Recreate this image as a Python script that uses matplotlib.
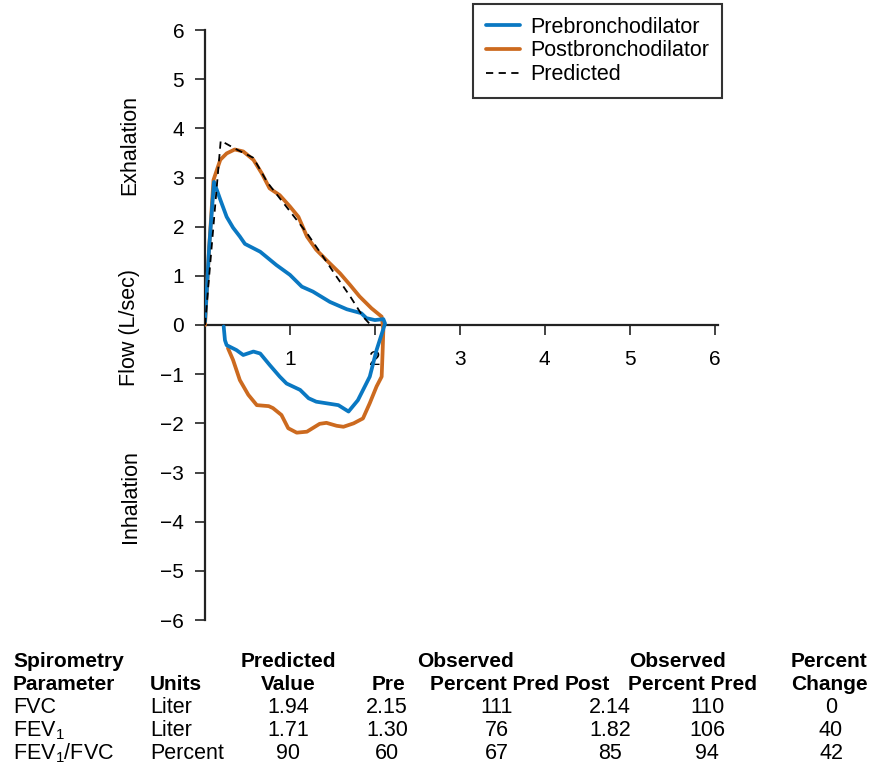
import matplotlib
matplotlib.use("Agg")
import matplotlib.pyplot as plt

plt.rcParams['font.family'] = ['Liberation Sans', 'DejaVu Sans']
plt.rcParams['mathtext.fontset'] = 'custom'
plt.rcParams['mathtext.rm'] = 'Liberation Sans'

# Prebronchodilator loop (volume L, flow L/s)
pre_vol = [0.0, 0.05, 0.106, 0.18, 0.255, 0.33, 0.41, 0.47, 0.65, 0.84, 1.0, 1.14, 1.27, 1.47, 1.67, 1.84, 1.90, 2.0, 2.10, 2.12,
           2.02, 1.94, 1.80, 1.69, 1.57, 1.31, 1.22, 1.12, 0.96, 0.88, 0.76, 0.65, 0.57, 0.45, 0.37, 0.255, 0.235, 0.22]
pre_flow = [0.07, 1.6, 2.91, 2.55, 2.20, 1.98, 1.80, 1.65, 1.49, 1.22, 1.02, 0.78, 0.68, 0.47, 0.32, 0.24, 0.14, 0.10, 0.12, 0.03,
            -0.51, -1.05, -1.53, -1.76, -1.63, -1.56, -1.49, -1.32, -1.19, -1.05, -0.81, -0.58, -0.54, -0.61, -0.51, -0.41, -0.31, -0.03]

# Postbronchodilator loop
post_vol = [0.0, 0.05, 0.10, 0.18, 0.255, 0.35, 0.45, 0.57, 0.67, 0.76, 0.88, 1.0, 1.10, 1.20, 1.31, 1.43, 1.59, 1.71, 1.82, 1.96, 2.08, 2.10,
            2.09, 2.08, 2.02, 1.94, 1.86, 1.75, 1.63, 1.55, 1.43, 1.35, 1.20, 1.08, 0.98, 0.90, 0.80, 0.75, 0.61, 0.51, 0.41, 0.33, 0.27]
post_flow = [0.0, 1.6, 2.95, 3.36, 3.49, 3.57, 3.53, 3.36, 3.08, 2.78, 2.64, 2.41, 2.20, 1.80, 1.53, 1.32, 1.05, 0.81, 0.58, 0.34, 0.17, -0.10,
             -0.6, -1.05, -1.25, -1.59, -1.90, -2.00, -2.07, -2.05, -1.99, -2.01, -2.17, -2.19, -2.10, -1.83, -1.69, -1.65, -1.63, -1.42, -1.12, -0.71, -0.47]

# Predicted (exhalation only)
pred_vol = [0.0, 0.185, 0.35, 0.57, 0.73, 1.20, 1.39, 1.55, 1.71, 1.86, 1.94]
pred_flow = [0.0, 3.75, 3.59, 3.40, 2.91, 1.87, 1.39, 0.98, 0.58, 0.17, 0.02]

x_ticks = [1, 2, 3, 4, 5, 6]
y_ticks = [-6, -5, -4, -3, -2, -1, 0, 1, 2, 3, 4, 5, 6]

# Table
header1 = ["Spirometry", "", "Predicted", "", "Observed", "", "Observed", "Percent"]
header2 = ["Parameter", "Units", "Value", "Pre", "Percent Pred", "Post", "Percent Pred", "Change"]
rows = [
    ["FVC", "Liter", "1.94", "2.15", "111", "2.14", "110", "0"],
    [r"FEV$_\mathrm{1}$", "Liter", "1.71", "1.30", "76", "1.82", "106", "40"],
    [r"FEV$_\mathrm{1}$/FVC", "Percent", "90", "60", "67", "85", "94", "42"],
]

BLUE = '#0a78c2'
ORANGE = '#cc6a1f'
FS = 15.5
FSB = 15.0

W, H = 872, 765
fig = plt.figure(figsize=(W / 100, H / 100), dpi=100)
ax = fig.add_axes([205 / W, (H - 620) / H, 513 / W, 590 / H])

l1, = ax.plot(pre_vol, pre_flow, color=BLUE, lw=2.7, solid_joinstyle='round', solid_capstyle='round', zorder=4)
l2, = ax.plot(post_vol, post_flow, color=ORANGE, lw=2.7, solid_joinstyle='round', solid_capstyle='round', zorder=3)
l3, = ax.plot(pred_vol, pred_flow, color='black', lw=1.3, ls=(0, (4, 3)), zorder=5)

ax.set_xlim(0, 6.04)
ax.set_ylim(-6, 6)
ax.spines['top'].set_visible(False)
ax.spines['right'].set_visible(False)
ax.spines['bottom'].set_position(('data', 0))
for s in ('left', 'bottom'):
    ax.spines[s].set_linewidth(1.6)
    ax.spines[s].set_color('#222222')
ax.set_xticks(x_ticks)
ax.set_yticks(y_ticks)
ax.set_yticklabels([str(v).replace('-', '\u2212') for v in y_ticks])
ax.tick_params(axis='both', direction='out', length=7, width=1.2, color='#222222', labelsize=15)
ax.tick_params(axis='x', pad=11)
ax.tick_params(axis='y', pad=8)

fig.text(130 / W, 1 - 327 / H, "Flow (L/sec)", rotation=90, ha='center', va='center', fontsize=FS)
fig.text(130 / W, 1 - 145 / H, "Exhalation", rotation=90, ha='center', va='center', fontsize=FS)
fig.text(130 / W, 1 - 497 / H, "Inhalation", rotation=90, ha='center', va='center', fontsize=FS)

leg = fig.legend([l1, l2, l3], ["Prebronchodilator", "Postbronchodilator", "Predicted"],
                 loc='upper left', bbox_to_anchor=(473 / W, 1 - 4 / H), frameon=True, fancybox=False,
                 fontsize=FS, handlelength=1.6, handletextpad=0.47, borderpad=0.6, labelspacing=0.12,
                 borderaxespad=0)
leg.get_frame().set_edgecolor('black')
leg.get_frame().set_linewidth(1.5)

# table layout
col_x = [13, 150, 288, 387, 497, 610, 707, 831]
col_ha = ['left', 'left', 'center', 'center', 'center', 'center', 'center', 'center']
h1_x = [13, 150, 288, 387, 465, 610, 678, 829]
h2_x = [13, 150, 288, 388, 495, 587, 692, 829]
row_y = [667, 690, 713, 736, 759]

for i, t in enumerate(header1):
    if t:
        fig.text(h1_x[i] / W, 1 - row_y[0] / H, t, ha=col_ha[i], va='baseline', fontsize=FSB, fontweight='bold')
for i, t in enumerate(header2):
    fig.text(h2_x[i] / W, 1 - row_y[1] / H, t, ha=col_ha[i], va='baseline', fontsize=FSB, fontweight='bold')
for r, row in enumerate(rows):
    for i, t in enumerate(row):
        fig.text(col_x[i] / W, 1 - row_y[2 + r] / H, t, ha=col_ha[i], va='baseline', fontsize=FS)

fig.savefig("out.png", dpi=100)
